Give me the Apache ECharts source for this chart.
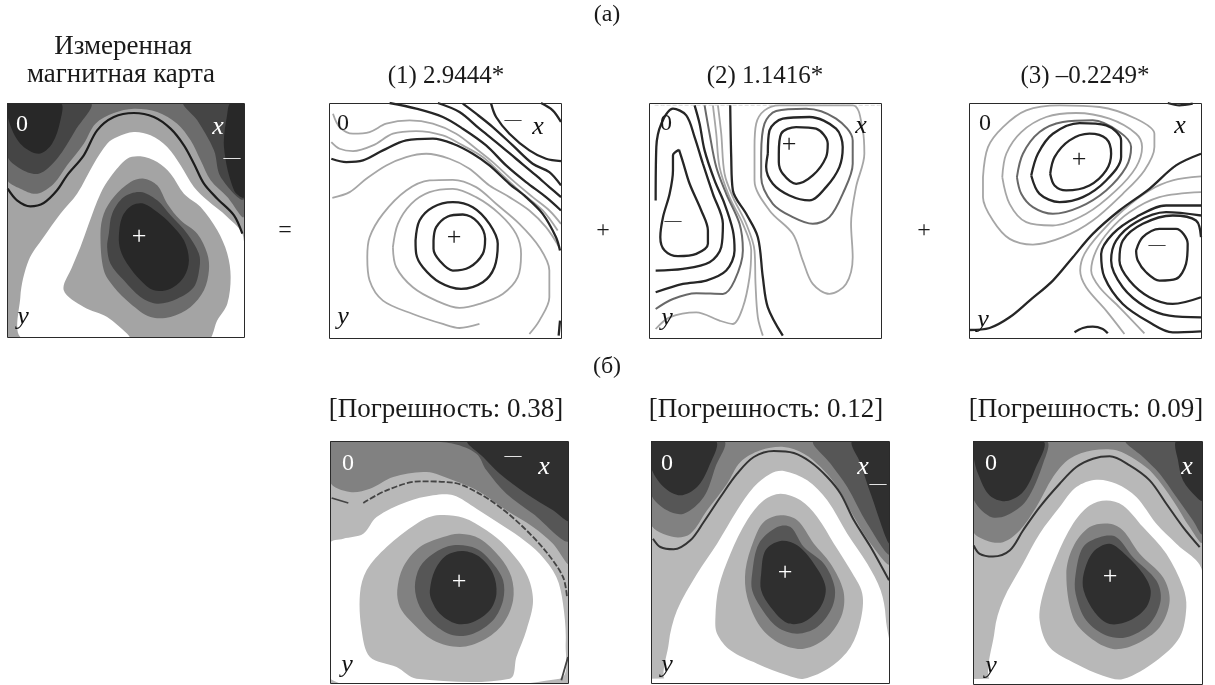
<!DOCTYPE html>
<html><head><meta charset="utf-8">
<style>html,body{margin:0;padding:0;background:#fff}#c{width:1215px;height:685px}</style>
<script src="https://cdn.jsdelivr.net/npm/echarts@6/dist/echarts.min.js"></script></head>
<body><div id="c"></div>
<script>
// Shades of the filled maps
const K='#282828',D='#454545',M='#6c6c6c',L='#a4a4a4';
const K2='#2f2f2f',D2='#565656',M2='#818181',L2='#b8b8b8',W='#ffffff';
// Map coordinates: reading units on each panel (1/3 pixel of picture)
// ---- measured map
const m0TopMid=[[20,38],[20,265],[60,295],[110,310],[160,280],[200,225],[250,160],[285,100],[340,68],[400,55],[470,65],[530,100],[570,150],[600,210],[630,270],[680,320],[730,378],[730,38]];
const m0TopLeft2=[[20,38],[20,195],[60,235],[115,250],[170,205],[225,120],[270,38]];
const m0TopLeft1=[[25,38],[25,90],[60,160],[115,190],[155,160],[180,90],[180,38]];
const m0TopRight2=[[550,38],[590,90],[640,180],[660,260],[730,325],[730,38]];
const m0TopRight1=[[690,38],[680,70],[670,170],[700,300],[730,320],[730,38]];
const m0White=[[70,745],[60,620],[85,510],[130,440],[180,370],[230,310],[280,220],[320,160],[350,140],[400,125],[450,135],[500,170],[540,225],[580,290],[620,330],[680,380],[728,440],[728,745]];
const m0Light=[[190,600],[215,530],[240,470],[265,400],[300,310],[330,260],[380,205],[420,198],[470,215],[510,250],[550,310],[600,350],[650,420],[680,490],[690,560],[680,640],[650,690],[620,750],[400,750],[380,730],[320,680],[250,650]];
const m0Mid=[[300,430],[310,370],[340,320],[390,275],[430,265],[470,285],[500,340],[540,390],[590,430],[620,490],[625,540],[610,600],[570,650],[510,680],[450,680],[390,640],[340,590],[310,540]];
const m0Dark=[[325,430],[335,370],[370,320],[420,305],[470,330],[510,375],[560,430],[595,490],[597,530],[580,590],[530,625],[470,640],[420,620],[370,570],[330,520],[320,470]];
const m0Core=[[355,440],[365,380],[395,345],[430,340],[470,365],[510,400],[550,450],[565,510],[550,560],[510,595],[460,600],[420,570],[380,520],[360,480]];
const m0Line=[[22,295],[50,330],[90,348],[130,338],[170,300],[200,255],[250,195],[290,120],[340,80],[400,68],[460,80],[510,115],[550,165],[580,220],[610,280],[650,325],[700,375],[725,430]];
// ---- component (1)
const c1Black=[
 [[665,38],[700,60],[725,95]],
 [[515,40],[530,80],[570,130],[630,180],[680,205],[725,212]],
 [[430,40],[470,70],[520,110],[580,165],[640,220],[690,245],[725,285]],
 [[355,38],[420,65],[480,115],[530,155],[590,205],[650,255],[690,290],[725,320]],
 [[210,38],[290,55],[370,80],[430,115],[500,165],[560,225],[620,275],[680,320],[725,360]],
 [[35,205],[80,215],[130,210],[190,180],[260,150],[340,145],[400,160],[460,190],[510,225],[570,280],[620,320],[670,370],[710,440],[722,480]],
 [[288,450],[300,390],[340,350],[400,335],[460,350],[510,400],[535,460],[525,530],[490,575],[425,595],[360,575],[310,530],[290,490],[288,450]],
 [[342,450],[350,410],[385,378],[430,372],[475,395],[497,445],[490,490],[450,530],[400,540],[360,510],[342,475],[342,450]],
 [[722,690],[718,735]]
];
const c1Grey=[
 [[40,70],[60,110],[100,130],[150,125],[200,100],[270,90],[340,100],[410,130],[470,175],[520,215],[580,270],[640,320],[690,360],[725,400]],
 [[35,155],[60,175],[100,182],[160,165],[220,130],[290,122],[370,135],[430,165],[490,200],[550,255],[610,310],[670,360],[715,420]],
 [[38,322],[90,305],[140,265],[200,225],[260,200],[320,190],[390,205],[450,235],[510,285],[570,320],[630,360],[680,410],[720,470]],
 [[480,700],[420,712],[370,700],[280,670],[190,630],[150,570],[143,500],[150,440],[190,370],[260,300],[330,270],[400,268],[470,290],[530,340],[600,400],[660,470],[690,540],[690,620],[660,690],[630,730]],
 [[220,470],[235,400],[275,340],[330,305],[400,295],[470,320],[540,370],[590,430],[605,490],[595,560],[550,610],[480,640],[420,652],[350,630],[280,590],[230,530],[220,470]]
];
// ---- component (2)
const c2Black=[
 [[118,178],[130,215],[150,280],[185,360],[205,420],[205,460],[170,490],[115,497],[75,480],[62,440],[70,380],[90,310],[100,240],[100,195],[118,178]],
 [[48,330],[50,170],[65,100],[100,55],[140,75],[165,140],[190,220],[220,310],[250,400],[245,470],[210,515],[130,535],[48,540]],
 [[165,45],[180,100],[195,180],[225,270],[255,340],[280,420],[285,480],[260,540],[200,570],[130,580],[48,605]],
 [[272,45],[275,200],[280,300],[320,370],[355,440],[370,560],[385,650],[430,735]],
 [[385,190],[390,120],[430,85],[510,80],[590,115],[610,170],[600,230],[560,290],[510,330],[450,315],[400,280],[380,230],[385,190]],
 [[418,190],[425,130],[470,110],[530,115],[565,160],[560,200],[520,255],[470,280],[430,250],[418,215],[418,190]]
];
const c2DarkGrey=[
 [[48,655],[100,625],[170,608],[250,610],[285,570],[310,480],[300,400],[260,310],[230,230],[210,130],[195,45]],
 [[365,190],[375,100],[410,62],[500,55],[590,85],[640,150],[640,220],[610,310],[570,380],[520,400],[460,380],[400,340],[365,260],[365,190]]
];
const c2Grey=[
 [[48,715],[90,680],[170,665],[240,690],[280,700],[310,650],[330,560],[335,480],[310,400],[270,320],[240,230],[230,130],[220,45]],
 [[235,45],[245,130],[255,250],[280,320],[320,400],[345,480],[348,580],[355,680],[370,735]],
 [[345,170],[350,100],[375,60],[420,45],[640,45],[670,120],[675,190],[650,290],[635,400],[640,500],[620,580],[570,610],[520,580],[490,510],[460,430],[390,360],[345,270],[345,170]]
];
const c2Top=[[45,45],[725,45]];
// ---- component (3)
const c3Black=[
 [[28,718],[90,712],[150,680],[210,630],[280,570],[340,500],[400,430],[480,360],[570,295],[650,225],[725,190]],
 [[725,345],[620,345],[530,380],[460,430],[425,490],[435,560],[490,640],[570,695],[640,725],[725,722]],
 [[725,375],[620,365],[530,395],[470,450],[455,510],[490,590],[560,650],[630,675],[725,680]],
 [[725,440],[710,390],[640,375],[550,400],[490,450],[480,510],[510,570],[570,620],[640,640],[725,620]],
 [[530,480],[550,440],[600,415],[650,415],[685,460],[680,520],[650,565],[600,570],[560,545],[535,510],[530,480]],
 [[345,725],[370,712],[400,708],[430,715],[445,728]],
 [[625,38],[660,45],[700,40]],
 [[215,255],[235,190],[280,130],[360,98],[440,105],[485,150],[485,200],[440,270],[370,320],[300,335],[240,310],[215,255]],
 [[272,250],[285,200],[330,150],[390,130],[440,145],[455,190],[440,240],[390,285],[320,300],[285,285],[272,250]]
];
const c3DarkGrey=[
 [[172,260],[190,190],[240,125],[310,95],[400,90],[480,125],[515,170],[500,230],[440,300],[360,350],[280,370],[220,350],[185,310],[172,260]]
];
const c3Grey=[
 [[70,260],[85,170],[130,110],[200,60],[300,45],[420,50],[530,85],[585,130],[585,170],[555,240],[490,310],[400,390],[310,440],[220,462],[150,445],[100,390],[70,320],[70,260]],
 [[128,260],[140,190],[185,125],[260,80],[350,68],[450,85],[530,130],[548,170],[530,230],[470,300],[380,370],[280,405],[200,395],[150,340],[128,260]],
 [[495,730],[440,660],[380,590],[362,540],[375,490],[420,430],[490,360],[570,300],[640,270],[725,258]],
 [[555,728],[480,650],[420,590],[395,540],[410,480],[450,420],[510,365],[600,320],[725,305]]
];
// ---- reconstruction (1)
const r1Mid=[[30,32],[30,155],[90,185],[150,175],[220,140],[320,125],[400,150],[480,185],[560,240],[640,290],[700,340],[750,400],[750,32]];
const r1Dark=[[300,32],[400,40],[470,70],[500,120],[560,190],[640,250],[750,330],[750,32]];
const r1Core=[[445,32],[490,80],[540,130],[620,190],[700,240],[750,270],[750,32]];
const r1White=[[30,340],[70,325],[130,310],[170,260],[260,215],[340,195],[400,195],[470,235],[540,280],[600,320],[660,370],[710,440],[730,520],[738,640],[720,745],[30,745]];
const r1Light=[[120,490],[140,420],[200,350],[290,280],[350,255],[430,262],[500,300],[560,350],[620,430],[640,510],[620,600],[590,680],[570,745],[290,745],[230,710],[150,680],[125,600]];
const r1BandMid=[[232,480],[250,410],[300,350],[370,320],[420,310],[480,325],[540,380],[575,440],[580,510],[550,580],[490,630],[420,650],[340,630],[270,570],[240,530]];
const r1BandDark=[[285,470],[300,410],[340,370],[400,345],[470,355],[520,400],[550,450],[550,510],[520,570],[460,610],[400,615],[340,580],[300,530]];
const r1BandCore=[[330,480],[345,420],[380,375],[430,362],[480,380],[520,430],[530,490],[510,540],[460,575],[410,580],[360,550],[335,510]];
const r1LineA=[[35,203],[85,218]];
const r1LineB=[[130,218],[200,180],[300,153],[400,157],[470,185],[540,230],[610,290],[680,365],[730,440],[742,500]];
const r1LineC=[[725,750],[745,680]];
// ---- reconstruction (2)
const r2Mid=[[32,32],[32,280],[100,320],[150,310],[200,240],[260,160],[300,95],[360,60],[430,50],[490,70],[540,110],[590,170],[640,260],[690,340],[750,400],[750,32]];
const r2Left2=[[32,32],[32,190],[80,240],[130,250],[190,200],[225,110],[250,32]];
const r2Left1=[[32,32],[32,110],[70,170],[120,195],[170,170],[205,110],[225,32]];
const r2Right2=[[520,32],[570,100],[620,170],[680,280],[750,370],[750,32]];
const r2Right1=[[635,32],[660,100],[690,190],[750,340],[750,32]];
const r2White=[[85,758],[85,640],[110,540],[170,430],[230,340],[290,240],[340,170],[390,130],[430,122],[500,150],[560,210],[620,310],[680,400],[720,480],[735,560],[735,758]];
const r2Light=[[225,560],[235,470],[270,370],[320,270],[370,210],[420,190],[480,210],[530,260],[580,340],[630,420],[665,490],[660,570],[630,650],[570,710],[490,745],[440,735],[350,700],[270,660],[230,610]];
const r2BandMid=[[315,420],[340,330],[370,275],[420,255],[470,270],[520,340],[570,400],[608,480],[605,550],[560,620],[490,655],[420,640],[360,590],[320,500]];
const r2BandDark=[[335,430],[355,340],[410,290],[450,290],[490,350],[550,400],[582,470],[575,530],[530,590],[470,610],[410,590],[360,530],[335,480]];
const r2BandCore=[[362,430],[375,360],[420,332],[470,345],[520,400],[555,470],[540,530],[490,575],[440,578],[390,530],[362,480]];
const r2Foot=[[32,745],[750,745],[750,758],[32,758]];
const r2Line=[[38,325],[60,350],[100,357],[150,330],[190,275],[240,200],[290,130],[340,80],[400,62],[460,68],[510,95],[560,140],[600,190],[640,270],[690,350],[745,450]];
// ---- reconstruction (3)
const r3Mid=[[40,32],[40,300],[80,330],[130,335],[180,300],[230,230],[280,140],[330,85],[400,60],[470,60],[530,90],[580,130],[640,210],[690,290],[727,335],[727,32]];
const r3Left2=[[40,32],[40,200],[90,258],[140,255],[200,210],[250,100],[260,32]];
const r3Left1=[[40,32],[42,80],[55,130],[90,195],[140,212],[190,185],[225,120],[250,32]];
const r3Right2=[[500,32],[550,80],[600,130],[650,200],[700,270],[727,310],[727,32]];
const r3Right1=[[650,32],[655,90],[670,150],[710,200],[727,210],[727,32]];
const r3White=[[105,760],[105,600],[130,510],[190,400],[240,310],[300,230],[350,170],[410,148],[470,160],[530,200],[590,280],[650,340],[727,420],[727,760]];
const r3Light=[[240,570],[250,490],[290,380],[340,280],[390,225],[440,210],[490,225],[550,290],[620,370],[670,470],[680,530],[660,620],[590,690],[490,745],[430,735],[350,700],[270,650]];
const r3BandMid=[[320,430],[340,350],[390,290],[450,280],[490,300],[540,370],[610,440],[630,510],[600,590],[530,640],[460,655],[390,620],[340,560]];
const r3BandDark=[[348,430],[370,350],[420,320],[470,320],[520,380],[590,450],[603,510],[570,580],[500,620],[440,615],[380,570],[348,490]];
const r3BandCore=[[372,430],[400,365],[450,340],[500,375],[550,430],[573,480],[560,530],[510,570],[450,580],[405,545],[372,480]];
const r3Foot=[[40,745],[727,745],[727,760],[40,760]];
const r3Line=[[42,345],[60,370],[100,378],[150,360],[190,300],[240,230],[300,160],[350,110],[400,85],[450,78],[510,105],[570,150],[620,220],[670,290],[720,350]];
// Titles
const titleMeasured=['Измеренная','магнитная карта'];
const titleComponents=['(1) 2.9444*','(2) 1.1416*','(3) –0.2249*'];
const titleErrors=['[Погрешность: 0.38]','[Погрешность: 0.12]','[Погрешность: 0.09]'];
const partLabels=['(а)','(б)'];

const BL='#262626',G='#a6a6a6',GD='#686868';
const panels=[
 {cx:0,cy:90,x:[20,730],y:[38,740],bg:L,fills:[[m0TopMid,M],[m0TopLeft2,D],[m0TopLeft1,K],[m0TopRight2,D],[m0TopRight1,K],[m0White,W],[m0Light,L],[m0Mid,M],[m0Dark,D],[m0Core,K]],lines:[[m0Line,'#1c1c1c',2.2,'solid']]},
 {cx:320,cy:90,x:[28,725],y:[38,742],bg:W,fills:[],lines:[...c1Grey.map(l=>[l,G,1.8,'solid']),...c1Black.map(l=>[l,BL,2.3,'solid'])]},
 {cx:640,cy:90,x:[28,725],y:[38,742],bg:W,fills:[],lines:[[c2Top,'#d8d8d8',1,'dashed'],...c2Grey.map(l=>[l,G,1.8,'solid']),...c2DarkGrey.map(l=>[l,GD,2,'solid']),...c2Black.map(l=>[l,BL,2.3,'solid'])]},
 {cx:960,cy:90,x:[28,725],y:[38,742],bg:W,fills:[],lines:[...c3Grey.map(l=>[l,G,1.8,'solid']),...c3DarkGrey.map(l=>[l,GD,2,'solid']),...c3Black.map(l=>[l,BL,2.3,'solid'])]},
 {cx:320,cy:430,x:[30,745],y:[32,758],bg:L2,fills:[[r1Mid,M2],[r1Dark,D2],[r1Core,K2],[r1White,W],[r1Light,L2],[r1BandMid,M2],[r1BandDark,D2],[r1BandCore,K2]],lines:[[r1LineA,'#444',1.8,'solid'],[r1LineB,'#444',1.8,[6,2]],[r1LineC,'#444',1.8,'solid']]},
 {cx:640,cy:430,x:[32,745],y:[32,758],bg:L2,fills:[[r2Mid,M2],[r2Left2,D2],[r2Left1,K2],[r2Right2,D2],[r2Right1,K2],[r2White,W],[r2Foot,W],[r2Light,L2],[r2BandMid,M2],[r2BandDark,D2],[r2BandCore,K2]],lines:[[r2Line,'#333',2,'solid']]},
 {cx:960,cy:430,x:[40,727],y:[32,760],bg:L2,fills:[[r3Mid,M2],[r3Left2,D2],[r3Left1,K2],[r3Right2,D2],[r3Right1,K2],[r3White,W],[r3Foot,W],[r3Light,L2],[r3BandMid,M2],[r3BandDark,D2],[r3BandCore,K2]],lines:[[r3Line,'#333',2,'solid']]}
];

const grid=[],xAxis=[],yAxis=[],series=[],frames=[];
panels.forEach((p,i)=>{
  const left=Math.round(p.cx+p.x[0]/3),top=Math.round(p.cy+p.y[0]/3),w=Math.round((p.x[1]-p.x[0])/3),h=Math.round((p.y[1]-p.y[0])/3);
  grid.push({left,top,width:w,height:h,show:true,backgroundColor:p.bg,borderWidth:0,containLabel:false});
  frames.push({type:'rect',z:40,shape:{x:left+0.5,y:top+0.5,width:w,height:h},style:{fill:'none',stroke:'#2a2a2a',lineWidth:1}});
  xAxis.push({type:'value',gridIndex:i,min:p.x[0],max:p.x[1],show:false});
  yAxis.push({type:'value',gridIndex:i,min:p.y[0],max:p.y[1],inverse:true,show:false});
  p.fills.forEach(([pts,color],k)=>{
    series.push({type:'custom',xAxisIndex:i,yAxisIndex:i,clip:true,silent:true,z:2+k*0.01,data:pts,
      renderItem:(params,api)=>params.dataIndex===0?{type:'polygon',shape:{points:pts.map(q=>api.coord(q)),smooth:0.33},style:{fill:color}}:null});
  });
  p.lines.forEach(([pts,color,w2,dash])=>{
    series.push({type:'line',xAxisIndex:i,yAxisIndex:i,data:pts,showSymbol:false,smooth:0.33,silent:true,z:5,animation:false,clip:true,lineStyle:{color,width:w2,type:dash}});
  });
});

const serif='"Liberation Serif","Times New Roman",serif';
const T=(text,x,y,size,fill,style)=>({type:'text',z:50,x,y,style:{text,fontFamily:serif,fontSize:size,fill:fill||'#1a1a1a',fontStyle:style||'normal',align:'center',verticalAlign:'middle'}});
const graphic=[...frames,
 T(partLabels[0],607,15,24),T(partLabels[1],607,367,24),
 T(titleMeasured[0],123,47,27),T(titleMeasured[1],121,75,27),
 T(titleComponents[0],446,76,25),T(titleComponents[1],765,76,25),T(titleComponents[2],1085,76,25),
 T(titleErrors[0],446,410,27),T(titleErrors[1],766,410,27),T(titleErrors[2],1086,410,27),
 T('=',285,231,24),T('+',603,231,24),T('+',924,231,24),
 // panel marks
 T('0',22,125,24,'#fff'),T('x',218,127,26,'#fff','italic'),T('—',232,158,17,'#fff'),T('+',139,237,26,'#fff'),T('y',23,317,26,'#111','italic'),
 T('0',343,124,24),T('—',513,120,17),T('x',538,127,26,'#111','italic'),T('+',454,238,26),T('y',343,317,26,'#111','italic'),
 T('0',666,124,24),T('x',861,126,26,'#111','italic'),T('+',789,145,26),T('—',673,221,17),T('y',667,318,26,'#111','italic'),
 T('0',985,124,24),T('x',1180,126,26,'#111','italic'),T('+',1079,160,26),T('—',1157,245,17),T('y',983,320,26,'#111','italic'),
 T('0',348,464,24,'#fff'),T('—',513,456,17,'#fff'),T('x',544,467,26,'#fff','italic'),T('+',459,582,26,'#fff'),T('y',347,665,26,'#111','italic'),
 T('0',667,464,24,'#fff'),T('x',863,467,26,'#fff','italic'),T('—',878,484,17,'#fff'),T('+',785,573,26,'#fff'),T('y',667,665,26,'#111','italic'),
 T('0',991,464,24,'#fff'),T('x',1187,467,26,'#fff','italic'),T('+',1110,577,26,'#fff'),T('y',991,666,26,'#111','italic')
];
const chart=echarts.init(document.getElementById('c'),null,{renderer:'canvas'});
chart.setOption({animation:false,backgroundColor:'#fff',grid,xAxis,yAxis,series,graphic});
</script></body></html>
